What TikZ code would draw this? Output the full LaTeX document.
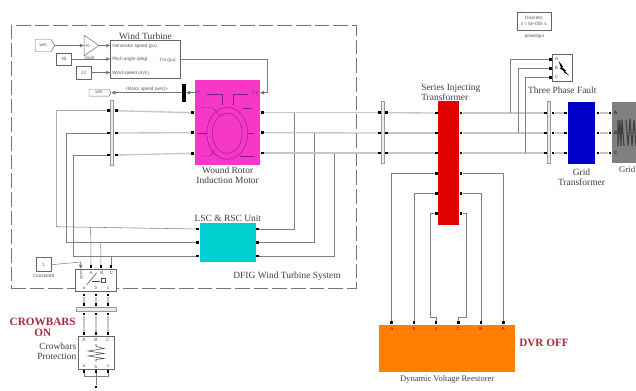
\documentclass[tikz,border=0pt]{standalone}
\usepackage{fontspec}
\setmainfont{Liberation Serif}
\setsansfont{Liberation Sans}
\usetikzlibrary{arrows.meta, positioning, fit, calc, shapes.geometric, shapes.symbols}
\definecolor{motorcol}{RGB}{247,55,200}
\definecolor{convcol}{RGB}{0,207,207}
\definecolor{seriescol}{RGB}{224,0,0}
\definecolor{gtrcol}{RGB}{0,0,200}
\definecolor{gridcol}{RGB}{128,128,128}
\definecolor{dvrcol}{RGB}{255,128,0}
\definecolor{notecol}{RGB}{170,40,60}
\definecolor{windcol}{RGB}{130,30,120}

\begin{document}
\begin{tikzpicture}[
    x=0.75pt, y=-0.75pt,
    block/.style={draw=black!60, line width=0.35pt, fill=white, inner sep=0pt},
    colorbox/.style={inner sep=0pt, fill=#1},
    busbar/.style={draw=black!40, line width=0.4pt, fill=black!8, inner sep=0pt},
    port/.style={fill=black, inner sep=0pt, minimum size=2.2pt},
    pline/.style={draw=black!22, line width=1pt},
    tline/.style={draw=black!50, line width=0.4pt},
    sline/.style={draw=black!55, line width=0.35pt, -{Latex[length=3pt,width=3pt]}},
    lbl/.style={font=\fontsize{7.1}{7.2}\selectfont, text=black!75, align=center, inner sep=0pt},
    redlbl/.style={font=\bfseries\fontsize{8.4}{8.4}\selectfont, text=notecol, align=center, inner sep=0pt},
    tiny/.style={font=\sffamily\fontsize{3.5}{4.4}\selectfont, text=black!65, inner sep=0pt, align=center},
    winding/.style={draw=windcol, line width=0.3pt}
]
  \clip (0,0) rectangle (636,390);
  \fill[white] (0,0) rectangle (636,390);

  % system frame
  \node[draw=black!55, dash pattern=on 11pt off 3pt, line width=0.5pt, inner sep=0pt, fit={(11,25) (356,288)}] (frame) {};
  \node[lbl, anchor=east] (framelbl) at (341,276) {DFIG Wind Turbine System};

  % wind turbine
  \node[block, fit={(110.5,40.5) (180.5,78)}] (wt) {};
  \node[lbl, above=0.6pt of wt] (wtlbl) {Wind Turbine};
  \node[tiny, anchor=west] (wt1) at (112,46) {Generator speed (pu)};
  \node[tiny, anchor=west] (wt2) at (112,59.5) {Pitch angle (deg)};
  \node[tiny, anchor=west] (wt3) at (112,73) {Wind speed (m/s)};
  \node[tiny, anchor=east] (wt4) at (176,60) {Tm (pu)};
  \node[block, tiny, signal, signal to=east, signal pointer angle=120, minimum width=14.5pt, minimum height=9pt] (wmin) at (43.2,45.5) {wm};
  \node[block, isosceles triangle, isosceles triangle apex angle=70, minimum height=11pt, minimum width=9pt] (gain) at (89.5,45.5) {};
  \node[tiny, anchor=west] (gaink) at (84.5,45.7) {-K-};
  \node[tiny, below=3pt of gain] (gainlbl) {Gain};
  \node[block, tiny, fit={(56.5,53) (71.5,65)}] (pitch) {};
  \node[tiny] (pitchval) at (pitch.center) {45};
  \node[block, tiny, fit={(76,66) (91,79)}] (wind) {};
  \node[tiny] (windval) at (wind.center) {12};

  \draw[sline] (wmin.east) -- (gain.west |- wmin.east);
  \draw[sline] (gain.east) -- (wt.west |- gain.east);
  \draw[sline] (pitch.east) -- (wt.west |- pitch.east);
  \draw[sline] (wind.east) -- (wt.west |- wind.east);

  % motor
  \node[colorbox=motorcol, fit={(195.3,80) (260,165.3)}] (motor) {};
  \node[lbl, below=0.8pt of motor] (motorlbl) {Wound Rotor\\Induction Motor};
  \draw[winding] (227.3,133.3) ellipse [x radius=20.5, y radius=26];
  \draw[winding] (227.3,133.3) ellipse [x radius=15, y radius=20];
  \draw[winding] (206.7,94) -- (221.7,94) -- (221.7,105);
  \draw[winding] (248,94) -- (233.3,94) -- (233.3,105);
  \draw[winding] (201.7,107.7) -- (213,107.7) -- (219,115);
  \draw[winding] (243,107.7) -- (252,107.7);
  \draw[winding] (197.5,132.7) -- (207,132.7);
  \draw[winding] (247.5,132.7) -- (254,132.7);
  \draw[winding] (202,156) -- (210,156) -- (215,150);
  \draw[winding] (240,156) -- (254,156);

  \node[port] (mL1) at (192.7,112.7) {};
  \node[port] (mL2) at (192.7,132.7) {};
  \node[port] (mL3) at (192.7,153.3) {};
  \node[port] (mR1) at (262.3,112.7) {};
  \node[port] (mR2) at (262.3,132.7) {};
  \node[port] (mR3) at (262.3,153) {};
  \node[tiny, text=black!70] (mtm) at (255,92.7) {Tm};
  \node[tiny, text=black!70] (mm) at (198,92.7) {m};

  \coordinate (tmin) at (260,92.7);
  \coordinate (tmbend) at (267,59);
  \coordinate (tmdown) at (267,92.7);
  \draw[tline] (wt.east |- tmbend) -- (tmbend) -- (tmdown);
  \draw[sline] (tmdown) -- (tmin);

  % rotor speed
  \node[fill=black, inner sep=0pt, minimum width=2.6pt, minimum height=13.5pt] (demux) at (184,92.7) {};
  \node[block, tiny, signal, signal to=east, signal pointer angle=120, minimum width=16.5pt, minimum height=5.2pt] (wmout) at (99,92.7) {wm};
  \draw[sline] (motor.west |- demux) -- (demux);
  \draw[sline] (demux) -- node[tiny, above=1pt] (speedlbl) {<Rotor speed (wm)>} (wmout.east);

  % rotor side bus
  \node[busbar, fit={(110.3,100.5) (113.7,165)}] (bar1) {};
  \node[port] (b1L1) at (108.3,110.7) {};
  \node[port] (b1L2) at (108.3,133) {};
  \node[port] (b1L3) at (108.3,155) {};
  \node[port] (b1R1) at (116.3,110.7) {};
  \node[port] (b1R2) at (116.3,133) {};
  \node[port] (b1R3) at (116.3,155) {};
  \draw[pline] (b1R1) -- (mL1);
  \draw[pline] (b1R2) -- (mL2);
  \draw[pline] (b1R3) -- (mL3);

  % converter
  \node[colorbox=convcol, fit={(200,222.7) (255.7,261.7)}] (conv) {};
  \node[lbl, above=0.5pt of conv] (convlbl) {LSC \& RSC Unit};
  \node[port] (cL1) at (197.7,229) {};
  \node[port] (cL2) at (197.7,242.3) {};
  \node[port] (cL3) at (197.7,256) {};
  \node[port] (cR1) at (257.7,229) {};
  \node[port] (cR2) at (257.7,242.3) {};
  \node[port] (cR3) at (257.7,256) {};

  \coordinate (c1) at (56.3,226.7);
  \coordinate (c2) at (66,242.3);
  \coordinate (c3) at (73.3,256);
  \draw[tline] (b1L1) -| (c1) -- (cL1);
  \draw[tline] (b1L2) -| (c2) -- (cL2);
  \draw[tline] (b1L3) -| (c3) -- (cL3);

  \coordinate (j1) at (294.3,112.7);
  \coordinate (j2) at (314.3,132.7);
  \coordinate (j3) at (334.3,153);
  \draw[tline] (cR1) -| (j1);
  \draw[tline] (cR2) -| (j2);
  \draw[tline] (cR3) -| (j3);

  % crowbar switch
  \node[block, fit={(75.3,269) (116.7,291.3)}] (switch) {};
  \node[port] (sA) at (91,266.7) {};
  \node[port] (sB) at (101,266.7) {};
  \node[port] (sC) at (111,266.7) {};
  \node[tiny] (slA) at (91,272.5) {A};
  \node[tiny] (slB) at (102,272.5) {B};
  \node[tiny] (slC) at (111.5,272.5) {C};
  \node[tiny, rotate=90] (slcom) at (81.5,275) {com};
  \node[tiny] (sla) at (84,288.3) {a};
  \node[tiny] (slb) at (96,288.3) {b};
  \node[tiny] (slc) at (108,288.3) {c};
  \draw[black!70, line width=0.4pt] (86.7,285) -- (96.7,272.7);
  \draw[black!70, line width=0.4pt] (92,281) -- (100,281);
  \draw[black!70, line width=0.4pt] (101,278) rectangle (105,282.5);
  \coordinate (t1) at (90.7,227.3);
  \coordinate (t2) at (100.7,242.3);
  \coordinate (t3) at (111,256);
  \draw[tline] (t1) -- (sA);
  \draw[tline] (t2) -- (sB);
  \draw[tline] (t3) -- (sC);

  \node[block, fit={(36,257.7) (51,271.7)}] (const) {};
  \node[tiny] (constval) at (const.center) {1};
  \node[tiny, below=1.4pt of const] (constlbl) {Constant8};
  \coordinate (sbend) at (80.7,262);
  \draw[sline] (const.east) -- (sbend) -- (switch.north -| sbend);

  % crowbar
  \node[port] (s1) at (84,295) {};
  \node[port] (s2) at (96,295) {};
  \node[port] (s3) at (108,295) {};
  \node[busbar, fit={(76.7,307.3) (116,311.7)}] (bar2) {};
  \node[port] (b2T1) at (84,304.7) {};
  \node[port] (b2T2) at (96,304.7) {};
  \node[port] (b2T3) at (108,304.7) {};
  \node[port] (b2B1) at (84,314) {};
  \node[port] (b2B2) at (96,314) {};
  \node[port] (b2B3) at (108,314) {};
  \draw[pline] (s1) -- (b2T1);
  \draw[pline] (s2) -- (b2T2);
  \draw[pline] (s3) -- (b2T3);

  \node[block, fit={(78.7,336.3) (114,369.3)}] (crow) {};
  \node[port] (cwT1) at (84,333.7) {};
  \node[port] (cwT2) at (96,333.7) {};
  \node[port] (cwT3) at (108,333.7) {};
  \node[port] (cwB1) at (84,371.3) {};
  \node[port] (cwB2) at (96,371.3) {};
  \node[port] (cwB3) at (108,371.3) {};
  \node[port] (gnd) at (96,387) {};
  \draw[pline] (b2B1) -- (cwT1);
  \draw[pline] (b2B2) -- (cwT2);
  \draw[pline] (b2B3) -- (cwT3);
  \coordinate (gj) at (96,376);
  \draw[tline] (cwB1) |- (gj);
  \draw[tline] (cwB3) |- (gj);
  \draw[tline] (cwB2) -- (gnd);
  \node[tiny] (cwA) at (84,339.5) {A};
  \node[tiny] (cwB) at (96,339.5) {B};
  \node[tiny] (cwC) at (108,339.5) {C};
  \node[tiny] (cwa) at (84,366.5) {a};
  \node[tiny] (cwb) at (96,366.5) {b};
  \node[tiny] (cwc) at (108,366.5) {c};
  \draw[black!70, line width=0.4pt] (96,344) -- (96,346.5) -- (104,348.5) -- (88.3,351) -- (104,353.5) -- (88.3,356) -- (104,358.5) -- (96,359.5) -- (96,362);
  \node[lbl, anchor=east, align=right] (crowlbl) at (76.5,351) {Crowbars\\Protection};
  \node[redlbl] (crowon) at (42.7,327.5) {CROWBARS\\ON\hspace{8pt}};

  % series transformer
  \node[colorbox=seriescol, fit={(438.3,100.7) (458.7,225)}] (series) {};
  \node[lbl, anchor=west, align=left] (serieslbl) at (421,92.3) {Series Injecting\\Transformer};
  \node[busbar, fit={(381,101.7) (384.7,163.3)}] (bar3) {};
  \node[port] (b3L1) at (379.3,112.7) {};
  \node[port] (b3L2) at (379.3,133) {};
  \node[port] (b3L3) at (379.3,153) {};
  \node[port] (b3R1) at (386.7,112.7) {};
  \node[port] (b3R2) at (386.7,133) {};
  \node[port] (b3R3) at (386.7,153) {};
  \draw[pline] (mR1) -- (b3L1);
  \draw[pline] (mR2) -- (b3L2);
  \draw[pline] (mR3) -- (b3L3);

  \node[port] (sL1) at (436.3,113) {};
  \node[port] (sL2) at (436.3,133) {};
  \node[port] (sL3) at (436.3,153) {};
  \node[port] (sL4) at (436.3,173.3) {};
  \node[port] (sL5) at (436.3,193.3) {};
  \node[port] (sL6) at (436.3,213.3) {};
  \node[port] (sR1) at (461,113) {};
  \node[port] (sR2) at (461,133) {};
  \node[port] (sR3) at (461,153) {};
  \node[port] (sR4) at (461,173.3) {};
  \node[port] (sR5) at (461,193.3) {};
  \node[port] (sR6) at (461,213.3) {};
  \draw[pline] (b3R1) -- (sL1);
  \draw[pline] (b3R2) -- (sL2);
  \draw[pline] (b3R3) -- (sL3);

  % fault side bus
  \node[busbar, fit={(547.3,101.7) (550.7,163.3)}] (bar4) {};
  \node[port] (b4L1) at (545.7,113) {};
  \node[port] (b4L2) at (545.7,133) {};
  \node[port] (b4L3) at (545.7,153) {};
  \node[port] (b4R1) at (553,113) {};
  \node[port] (b4R2) at (553,133) {};
  \node[port] (b4R3) at (553,153) {};
  \draw[pline] (sR1) -- (b4L1);
  \draw[pline] (sR2) -- (b4L2);
  \draw[pline] (sR3) -- (b4L3);

  % fault
  \node[block, fit={(552.3,54.3) (572.3,81.7)}] (fault) {};
  \node[lbl, below=3.2pt of fault] (faultlbl) {Three Phase Fault};
  \node[port] (fA) at (550.3,59.3) {};
  \node[port] (fB) at (550.3,68.3) {};
  \node[port] (fC) at (550.3,77.3) {};
  \node[tiny] (flA) at (556.7,59.3) {A};
  \node[tiny] (flB) at (556.5,68.3) {B};
  \node[tiny] (flC) at (556.7,77.3) {C};
  \fill[black] (558.5,61) -- (563,66.5) -- (561.8,67) -- (566,70.8) -- (565,71.3) -- (569,75.5) -- (563.5,72) -- (564.3,71.3) -- (559.8,68.3) -- (561,67.5) -- cycle;
  \coordinate (f1) at (510.3,113);
  \coordinate (f2) at (518,133);
  \coordinate (f3) at (525.3,153);
  \draw[tline] (f1) |- (fA);
  \draw[tline] (f2) |- (fB);
  \draw[tline] (f3) |- (fC);

  % powergui
  \node[block, fit={(517.7,12.3) (551,30)}] (pgui) {};
  \node[tiny] (pguitxt) at (pgui.center) {Discrete,\\s = 5e-005 s.};
  \node[tiny, below=2.6pt of pgui] (pguilbl) {powergui};

  % grid transformer
  \node[colorbox=gtrcol, fit={(567.7,102) (595.3,163.7)}] (gtr) {};
  \node[lbl, below=3.6pt of gtr] (gtrlbl) {Grid\\Transformer};
  \node[port] (gL1) at (565.3,113) {};
  \node[port] (gL2) at (565.3,133) {};
  \node[port] (gL3) at (565.3,153) {};
  \node[port] (gR1) at (598,113) {};
  \node[port] (gR2) at (598,133) {};
  \node[port] (gR3) at (598,153) {};
  \draw[pline] (b4R1) -- (gL1);
  \draw[pline] (b4R2) -- (gL2);
  \draw[pline] (b4R3) -- (gL3);

  % grid
  \node[colorbox=gridcol, fit={(612,102.3) (637,163.3)}] (grid) {};
  \node[lbl, anchor=east, font=\fontsize{6.6}{7}\selectfont] (gridlbl) at (635.5,169.5) {Grid};
  \node[port] (gdA) at (610,113) {};
  \node[port] (gdB) at (610,133) {};
  \node[port] (gdC) at (610,153) {};
  \node[tiny, text=black] (gdlA) at (615.7,113) {A};
  \node[tiny, text=black] (gdlB) at (615.7,133) {B};
  \node[tiny, text=black] (gdlC) at (615.7,153) {C};
  \draw[black!75, line width=0.8pt] (618,120) -- (618,146) -- (620,120) -- (621,146) -- (622,120) -- (624,146);
  \draw[black!75, line width=0.8pt] (626,120) -- (628,146) -- (630,119) -- (632,146) -- (634,120) -- (636,146);
  \draw[pline] (gR1) -- (gdA);
  \draw[pline] (gR2) -- (gdB);
  \draw[pline] (gR3) -- (gdC);

  % voltage restorer
  \node[colorbox=dvrcol, fit={(379.3,324.7) (515,372)}] (dvr) {};
  \node[lbl, below=2.6pt of dvr, font=\fontsize{6.4}{7}\selectfont] (dvrlbl) {Dynamic Voltage Reestorer};
  \node[redlbl, anchor=west] (dvroff) at (519,343) {DVR OFF};
  \node[port] (d1) at (391.7,322.7) {};
  \node[port] (d2) at (414,322.7) {};
  \node[port] (d3) at (436,322.7) {};
  \node[port] (d4) at (458.3,322.7) {};
  \node[port] (d5) at (481,322.7) {};
  \node[port] (d6) at (503.3,322.7) {};
  \node[tiny, text=red!50!black] (dl1) at (391.7,329) {a};
  \node[tiny, text=red!50!black] (dl2) at (414,329) {b};
  \node[tiny, text=red!50!black] (dl3) at (436,329) {c};
  \node[tiny, text=red!50!black] (dl4) at (458.3,329) {C};
  \node[tiny, text=red!50!black] (dl5) at (481,329) {B};
  \node[tiny, text=red!50!black] (dl6) at (503.3,329) {A};

  \draw[tline] (sL4) -| (d1);
  \draw[tline] (sL5) -| (d2);
  \draw[tline] (sR4) -| (d6);
  \draw[tline] (sR5) -| (d5);
  \coordinate (dl) at (430.7,317.7);
  \coordinate (dr) at (466.3,317.7);
  \draw[tline] (sL6) -| (dl) -| (d3);
  \draw[tline] (sR6) -| (dr) -| (d4);
\end{tikzpicture}
\end{document}
